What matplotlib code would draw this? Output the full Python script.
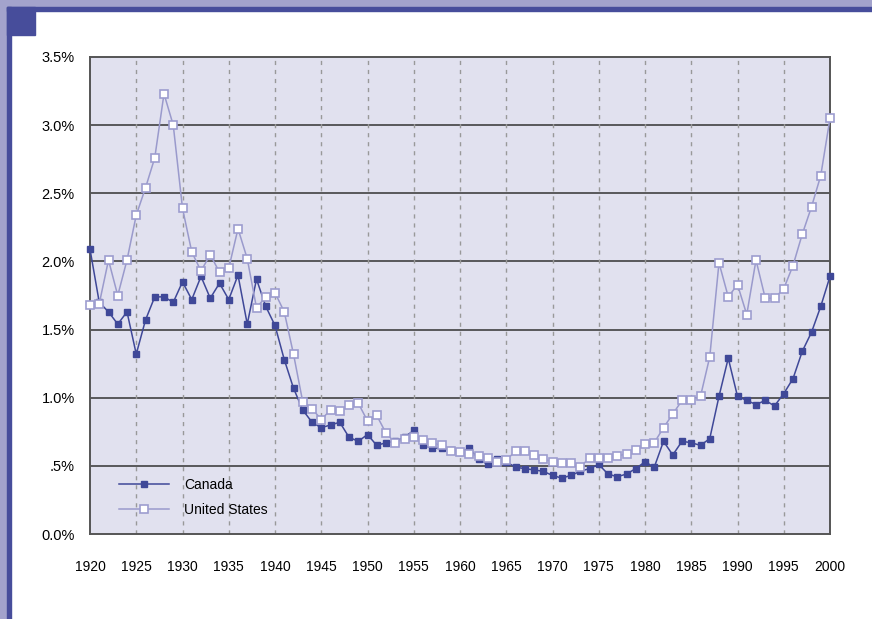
import matplotlib
matplotlib.use("Agg")
import matplotlib.pyplot as plt
from matplotlib.patches import Rectangle

years = list(range(1920, 2001))

canada = [2.09, 1.70, 1.63, 1.54, 1.63, 1.32, 1.57, 1.74, 1.74, 1.70,
          1.85, 1.72, 1.89, 1.73, 1.84, 1.72, 1.90, 1.54, 1.87, 1.67,
          1.53, 1.28, 1.07, 0.91, 0.82, 0.78, 0.80, 0.82, 0.71, 0.68,
          0.73, 0.65, 0.67, 0.68, 0.71, 0.76, 0.65, 0.63, 0.63, 0.62,
          0.60, 0.63, 0.55, 0.51, 0.55, 0.53, 0.49, 0.48, 0.47, 0.46,
          0.43, 0.41, 0.43, 0.46, 0.48, 0.51, 0.44, 0.42, 0.44, 0.48,
          0.53, 0.49, 0.68, 0.58, 0.68, 0.67, 0.65, 0.70, 1.01, 1.29,
          1.01, 0.98, 0.95, 0.98, 0.94, 1.03, 1.14, 1.34, 1.48, 1.67,
          1.89]

united_states = [1.68, 1.69, 2.01, 1.75, 2.01, 2.34, 2.54, 2.76, 3.23, 3.00,
                 2.39, 2.07, 1.93, 2.05, 1.92, 1.95, 2.24, 2.02, 1.66, 1.74,
                 1.77, 1.63, 1.32, 0.97, 0.92, 0.84, 0.91, 0.90, 0.95, 0.96,
                 0.83, 0.87, 0.74, 0.67, 0.70, 0.71, 0.69, 0.67, 0.65, 0.61,
                 0.60, 0.59, 0.57, 0.56, 0.53, 0.54, 0.61, 0.61, 0.58, 0.55,
                 0.53, 0.52, 0.52, 0.49, 0.56, 0.56, 0.56, 0.57, 0.59, 0.62,
                 0.66, 0.67, 0.78, 0.88, 0.98, 0.98, 1.01, 1.30, 1.99, 1.74,
                 1.83, 1.61, 2.01, 1.73, 1.73, 1.80, 1.97, 2.20, 2.40, 2.63,
                 3.05]

y_ticks = [0.0, 0.5, 1.0, 1.5, 2.0, 2.5, 3.0, 3.5]
y_labels = ["0.0%", ".5%", "1.0%", "1.5%", "2.0%", "2.5%", "3.0%", "3.5%"]
x_ticks = list(range(1920, 2001, 5))

plt.rcParams['font.family'] = ['Liberation Sans', 'DejaVu Sans']

fig = plt.figure(figsize=(8.72, 6.19), dpi=100)
fig.set_facecolor('white')
W, H = 872, 619


def px_rect(x0, y0, x1, y1, color):
    fig.patches.append(Rectangle((x0 / W, 1 - y1 / H), (x1 - x0) / W, (y1 - y0) / H,
                                 transform=fig.transFigure, color=color, zorder=0))


# page frame
px_rect(0, 0, W, 7, '#a3a3cc')
px_rect(0, 0, 7, H, '#a3a3cc')
px_rect(7, 7, W, 11, '#474d9b')
px_rect(7, 7, 11, H, '#474d9b')
px_rect(7, 7, 35, 35, '#474d9b')

ax = fig.add_axes([90 / W, 1 - 534 / H, 740 / W, 477 / H])
ax.set_facecolor('#e1e1ef')

for t in y_ticks[1:-1]:
    ax.axhline(t, color='#333333', lw=1.1, zorder=1)
for t in x_ticks[1:-1]:
    ax.axvline(t, color='#999999', lw=1.0, linestyle=(0, (3, 3.5)), zorder=1)

ax.plot(years, canada, color='#3f4898', lw=1.1, marker='s', markersize=5,
        markerfacecolor='#3f4898', markeredgecolor='#3f4898', label='Canada',
        zorder=3, clip_on=False)
ax.plot(years, united_states, color='#9a9acc', lw=1.1, marker='s', markersize=5.3,
        markerfacecolor='white', markeredgecolor='#9d9dcf', markeredgewidth=1.2,
        label='United States', zorder=4, clip_on=False)

ax.set_xlim(1920, 2000)
ax.set_ylim(0, 3.5)
ax.set_yticks(y_ticks)
ax.set_yticklabels(y_labels, fontsize=10.5)
ax.set_xticks(x_ticks)
ax.set_xticklabels([str(x) for x in x_ticks], fontsize=10)
ax.tick_params(axis='both', length=0, colors='black')
ax.tick_params(axis='x', pad=19)
ax.tick_params(axis='y', pad=11)
ax.set_xticks([1920, 2000], minor=True)
ax.tick_params(axis='x', which='minor', length=6, width=1.3, color='#555555')

for s in ax.spines.values():
    s.set_color('#555555')
    s.set_linewidth(1.4)

ax.legend(loc='lower left', bbox_to_anchor=(0.022, 0.01), frameon=False, fontsize=10,
          handlelength=3.6, handletextpad=1.1, labelspacing=0.8)

fig.savefig('out.png', dpi=100)
